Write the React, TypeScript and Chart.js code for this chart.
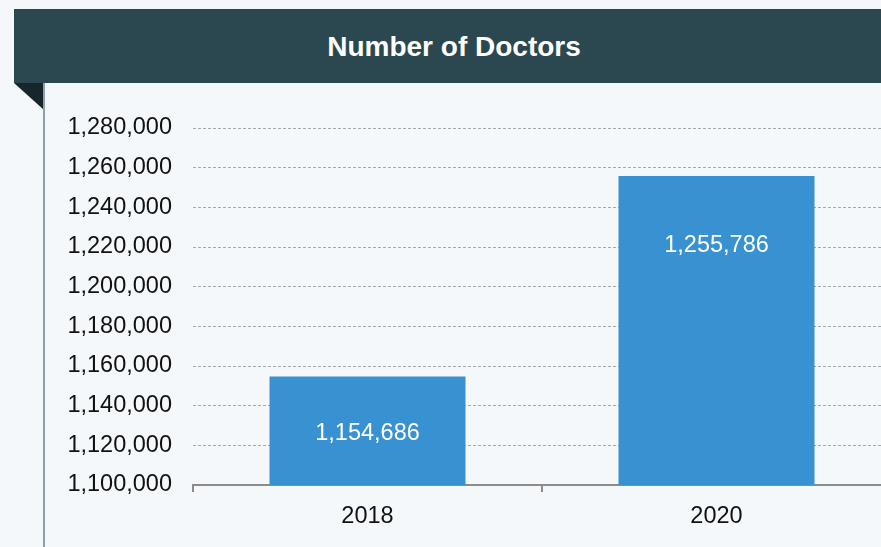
import React, { useEffect, useRef } from "react";
import { Chart, registerables } from "chart.js";

Chart.register(...registerables);

const TITLE = "Number of Doctors";
const categories = ["2018", "2020"];
const doctors = [1154686, 1255786];
const yMin = 1100000;
const yMax = 1280000;
const yStep = 20000;

const FONT = '"Liberation Sans", Arial, Helvetica, sans-serif';
const LABEL_DROP = [57, 69];

const fmt = (v: number) => Math.round(v).toLocaleString("en-US");

const barLabels = {
  id: "barLabels",
  afterDatasetsDraw(chart: any) {
    const ctx = chart.ctx;
    const meta = chart.getDatasetMeta(0);
    ctx.save();
    ctx.fillStyle = "#ffffff";
    ctx.font = `23.5px ${FONT}`;
    ctx.textAlign = "center";
    ctx.textBaseline = "middle";
    meta.data.forEach((bar: any, i: number) => {
      const v = chart.data.datasets[0].data[i] as number;
      ctx.fillText(fmt(v), bar.x, bar.y + LABEL_DROP[i % LABEL_DROP.length]);
    });
    ctx.restore();
  },
};

export default function App() {
  const ref = useRef<HTMLCanvasElement | null>(null);

  useEffect(() => {
    if (!ref.current) return;
    const chart = new Chart(ref.current, {
      type: "bar",
      data: {
        labels: categories,
        datasets: [
          {
            data: doctors,
            backgroundColor: "#3891d0",
            borderWidth: 0,
            barPercentage: 0.5616,
            categoryPercentage: 1,
          },
        ],
      },
      options: {
        animation: false,
        responsive: false,
        devicePixelRatio: window.devicePixelRatio || 1,
        layout: { padding: { top: 45, right: 9, left: 0, bottom: 0 } },
        plugins: {
          legend: { display: false },
          tooltip: { enabled: false },
          title: { display: false },
        },
        scales: {
          x: {
            offset: true,
            afterFit(scale: any) {
              scale.height = 62;
            },
            grid: {
              display: true,
              drawOnChartArea: false,
              drawTicks: true,
              tickLength: 7,
              color: "#8c8c8c",
              lineWidth: 2,
              offset: true,
            },
            border: { display: true, color: "#8c8c8c", width: 2 },
            ticks: {
              color: "#111111",
              font: { family: FONT, size: 23.5 },
              padding: 10,
            },
          },
          y: {
            min: yMin,
            max: yMax,
            afterFit(scale: any) {
              scale.width = 193;
            },
            grid: {
              drawTicks: false,
              color: "#a8a8a8",
              lineWidth: 1,
            },
            border: { display: false, dash: [3, 2] },
            ticks: {
              stepSize: yStep,
              color: "#111111",
              font: { family: FONT, size: 23.5 },
              padding: 21,
              callback: (v: any) => fmt(Number(v)),
            },
          },
        },
      },
      plugins: [barLabels],
    });
    return () => chart.destroy();
  }, []);

  return (
    <div
      style={{
        position: "absolute",
        left: 0,
        top: 0,
        width: 881,
        height: 547,
        overflow: "hidden",
        background: "#f4f8fa",
        fontFamily: FONT,
      }}
    >
      <div
        style={{
          position: "absolute",
          left: 14,
          top: 9,
          width: 880,
          height: 74,
          background: "#2b4850",
          color: "#ffffff",
          fontWeight: "bold",
          fontSize: 28,
          lineHeight: "76px",
          textAlign: "center",
        }}
      >
        {TITLE}
      </div>
      <div
        style={{
          position: "absolute",
          left: 14,
          top: 83,
          width: 0,
          height: 0,
          borderTop: "27px solid #17262c",
          borderLeft: "30px solid transparent",
        }}
      />
      <div
        style={{
          position: "absolute",
          left: 43,
          top: 83,
          width: 1.5,
          height: 464,
          background: "#8fa0a6",
        }}
      />
      <div style={{ position: "absolute", left: 0, top: 83, width: 900, height: 464 }}>
        <canvas ref={ref} width={900} height={464} style={{ width: 900, height: 464, display: "block" }} />
      </div>
    </div>
  );
}
